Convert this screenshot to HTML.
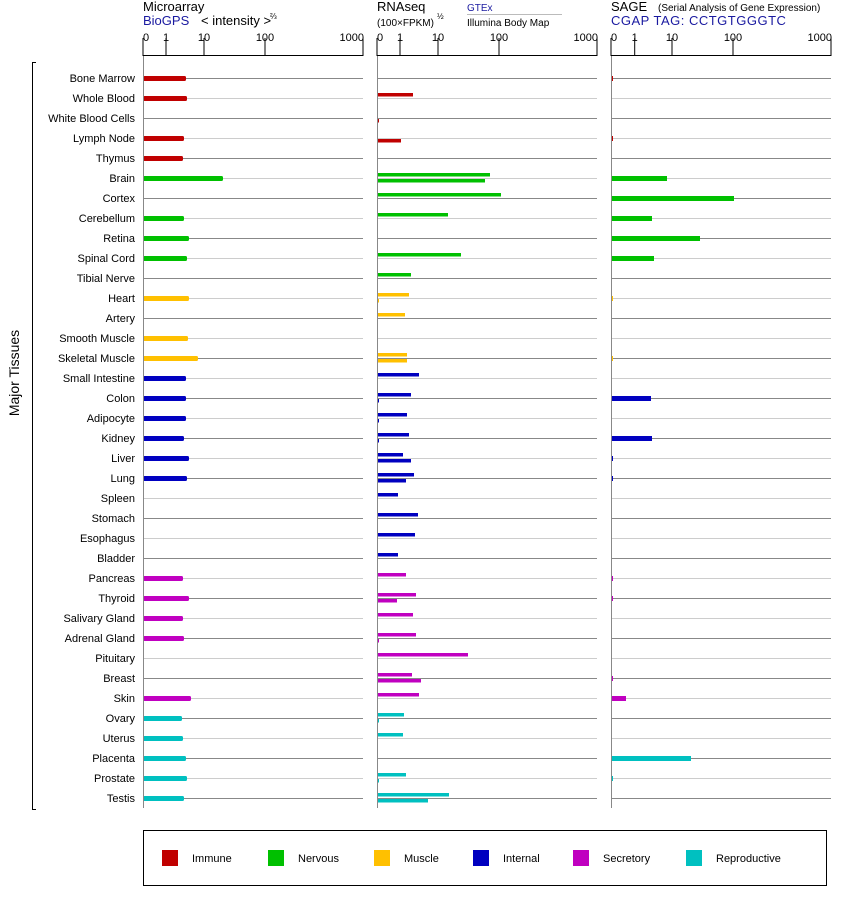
<!DOCTYPE html>
<html><head><meta charset="utf-8"><style>
body{margin:0;background:#fff;}
svg{font-family:"Liberation Sans",sans-serif;}
</style></head><body>
<svg id="s" width="842" height="900" xmlns="http://www.w3.org/2000/svg">
<text x="143" y="11" font-size="13">Microarray</text>
<text x="143" y="25" font-size="13" fill="#1a1aa0">BioGPS</text>
<text x="201" y="25" font-size="13">&lt; intensity &gt;</text>
<text x="270" y="19" font-size="8">⅔</text>
<text x="377" y="11" font-size="13">RNAseq</text>
<text x="377" y="26" font-size="10">(100×FPKM)</text>
<text x="437" y="19" font-size="8">½</text>
<text x="467" y="11" font-size="10" fill="#1a1aa0">GTEx</text>
<line x1="467" y1="14.5" x2="562" y2="14.5" stroke="#bbb"/>
<text x="467" y="26" font-size="10">Illumina Body Map</text>
<text x="611" y="11" font-size="13">SAGE</text>
<text x="658" y="11" font-size="10">(Serial Analysis of Gene Expression)</text>
<text x="611" y="25" font-size="13" fill="#1a1aa0" letter-spacing="0.5">CGAP TAG: CCTGTGGGTC</text>
<path d="M36,62.5H32.5V809.5H36" fill="none" stroke="#000"/>
<text transform="translate(19,373) rotate(-90)" font-size="14" text-anchor="middle">Major Tissues</text>
<rect x="143.5" y="830.5" width="683" height="55" fill="none" stroke="#000"/>
</svg>
<script>
const s=document.getElementById('s');const NS='http://www.w3.org/2000/svg';
function el(t,a,txt){const e=document.createElementNS(NS,t);for(const k in a)e.setAttribute(k,a[k]);if(txt!==undefined)e.textContent=txt;s.appendChild(e);return e;}
const panels=[[143,166,204,265,363],[377,400,438,499,597],[611,634.7,672,733,831]];
const lab=['0','1','10','100','1000'];
panels.forEach(p=>{
 el('line',{x1:p[0],y1:55.5,x2:p[4],y2:55.5,stroke:'#000'});
 p.forEach((x,i)=>{el('line',{x1:x,y1:38,x2:x,y2:56,stroke:'#000'});el('text',{x:i==4?x+1:x,y:41,'font-size':11,'text-anchor':i==0?'start':(i==4?'end':'middle')},lab[i]);});
});
const names=['Bone Marrow','Whole Blood','White Blood Cells','Lymph Node','Thymus','Brain','Cortex','Cerebellum','Retina','Spinal Cord','Tibial Nerve','Heart','Artery','Smooth Muscle','Skeletal Muscle','Small Intestine','Colon','Adipocyte','Kidney','Liver','Lung','Spleen','Stomach','Esophagus','Bladder','Pancreas','Thyroid','Salivary Gland','Adrenal Gland','Pituitary','Breast','Skin','Ovary','Uterus','Placenta','Prostate','Testis'];
const C={I:'#c00000',N:'#00c000',M:'#ffc000',T:'#0000c0',S:'#c000c0',R:'#00c0c0'};
const cat=i=>i<5?'I':i<11?'N':i<15?'M':i<25?'T':i<32?'S':'R';
const ma=[186,187,0,184,183,223,0,184,189,187,0,189,0,188,198,186,186,186,184,189,187,0,0,0,0,183,189,183,184,0,0,191,182,183,186,187,184];
const rn={1:[413,0],2:[0,379],3:[0,401],5:[490,485],6:[501,0],7:[448,0],9:[461,0],10:[411,0],11:[409,379],12:[405,0],14:[407,407],15:[419,0],16:[411,379],17:[407,379],18:[409,379],19:[403,411],20:[414,406],21:[398,0],22:[418,0],23:[415,0],24:[398,0],25:[406,0],26:[416,397],27:[413,0],28:[416,379],29:[468,0],30:[412,421],31:[419,0],32:[404,379],33:[403,0],35:[406,379],36:[449,428]};
const sg={0:613,3:613,5:667,6:734,7:652,8:700,9:654,11:613,14:613,16:651,18:652,19:613,20:613,25:613,26:613,30:613,31:626,34:691,35:613};
names.forEach((n,i)=>{
 const y=78+i*20;const st=i%2==0?'#888':'#ccc';const c=C[cat(i)];
 panels.forEach(p=>el('line',{x1:p[0],y1:y+0.5,x2:p[4],y2:y+0.5,stroke:st}));
 el('text',{x:135,y:y+4,'font-size':11,'text-anchor':'end'},n);
 if(ma[i])el('rect',{x:143,y:y-2,width:ma[i]-143,height:5,rx:1.5,fill:c});
 if(rn[i]){if(rn[i][0])el('rect',{x:377,y:y-5,width:rn[i][0]-377,height:3.5,fill:c});if(rn[i][1])el('rect',{x:377,y:y+1,width:rn[i][1]-377,height:3.5,fill:c});}
 if(sg[i])el('rect',{x:611,y:y-2,width:sg[i]-611,height:5,fill:c});
});
panels.forEach(p=>el('line',{x1:p[0]+0.5,y1:56,x2:p[0]+0.5,y2:808,stroke:'#888'}));
const lg=[['Immune','I',162],['Nervous','N',268],['Muscle','M',374],['Internal','T',473],['Secretory','S',573],['Reproductive','R',686]];
lg.forEach(l=>{el('rect',{x:l[2],y:850,width:16,height:16,fill:C[l[1]]});el('text',{x:l[2]+30,y:862,'font-size':11},l[0]);});
</script>
</body></html>
